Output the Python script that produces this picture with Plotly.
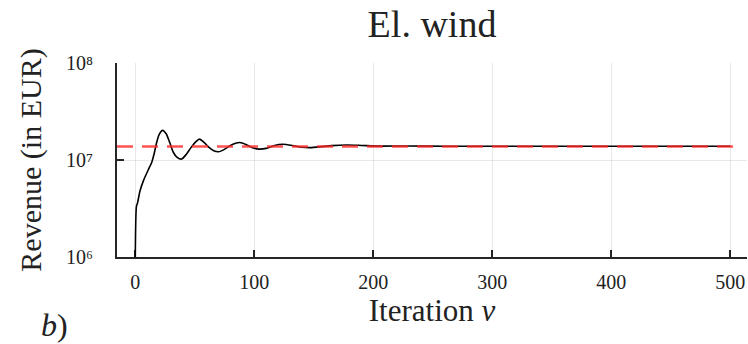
import plotly.graph_objects as go

# --- data ---
iterations = [0, 1, 2, 4, 7, 11, 14, 16, 18, 20, 23, 26, 29, 32, 35, 39, 43, 47, 51, 54,
              58, 62, 66, 70, 75, 80, 85, 88, 93, 98, 104, 110, 117, 124, 132, 140, 147,
              155, 165, 178, 190, 205, 230, 260, 300, 350, 400, 450, 500]
revenue = [1.0e2, 3.31e6, 3.63e6, 4.79e6, 6.17e6, 7.94e6, 9.55e6, 1.175e7, 1.514e7, 1.82e7,
           2.02e7, 1.862e7, 1.514e7, 1.202e7, 1.072e7, 1.023e7, 1.148e7, 1.349e7, 1.549e7, 1.641e7,
           1.514e7, 1.349e7, 1.245e7, 1.216e7, 1.288e7, 1.413e7, 1.496e7, 1.514e7, 1.445e7, 1.349e7,
           1.294e7, 1.318e7, 1.413e7, 1.452e7, 1.413e7, 1.355e7, 1.343e7,
           1.365e7, 1.406e7, 1.429e7, 1.413e7, 1.390e7, 1.396e7, 1.387e7, 1.387e7, 1.387e7, 1.387e7, 1.387e7, 1.387e7]
reference_revenue = 1.38e7

x_ticks = [0, 100, 200, 300, 400, 500]
y_ticks = [1e6, 1e7, 1e8]
y_tick_labels = ["10⁶", "10⁷", "10⁸"]

title_text = "El. wind"
x_title = "Iteration <i>ν</i>"
y_title = "Revenue (in EUR)"
panel_label = "<i>b</i>)"

FONT = "'Liberation Serif', 'DejaVu Serif', 'Times New Roman', serif"

fig = go.Figure()
fig.add_trace(go.Scatter(
    x=iterations, y=revenue, mode="lines",
    line=dict(color="black", width=1.6, shape="spline", smoothing=0.6),
    showlegend=False,
))

fig.add_shape(
    type="line", xref="x domain", yref="y",
    x0=0, x1=0.985, y0=reference_revenue, y1=reference_revenue,
    line=dict(color="rgba(255,40,40,0.8)", width=2.6, dash="16px,9px"),
    layer="above",
)

axis_common = dict(
    showline=True, linecolor="rgba(0,0,0,0.85)", linewidth=2,
    ticks="inside", ticklen=7, tickwidth=2, tickcolor="rgba(0,0,0,0.85)",
    showgrid=True, gridcolor="rgba(0,0,0,0.09)", gridwidth=1,
    zeroline=False, mirror=False,
    tickfont=dict(family=FONT, size=20, color="#222"),
)

fig.update_layout(
    width=748, height=344,
    margin=dict(l=117, r=1, t=63, b=87),
    paper_bgcolor="white", plot_bgcolor="white",
    title=dict(text=title_text, x=0.5, xanchor="center", xref="paper",
               y=1 - 24 / 344, yref="container", yanchor="middle",
               font=dict(family=FONT, size=38, color="#222")),
    xaxis=dict(
        range=[-15.3, 514], tickmode="array", tickvals=x_ticks,
        ticklabelstandoff=6,
        title=dict(text=x_title, font=dict(family=FONT, size=31, color="#222"), standoff=0),
        **axis_common,
    ),
    yaxis=dict(
        type="log", range=[6, 8], tickmode="array", tickvals=y_ticks, ticktext=y_tick_labels,
        ticklabelstandoff=18,
        title=dict(text=y_title, font=dict(family=FONT, size=30, color="#222"), standoff=16),
        **axis_common,
    ),
    annotations=[dict(
        text=panel_label, xref="paper", yref="paper", x=-0.1, y=-0.35,
        xanchor="center", yanchor="middle", showarrow=False,
        font=dict(family=FONT, size=32, color="#222"),
    )],
)

fig.write_html("out.html")
